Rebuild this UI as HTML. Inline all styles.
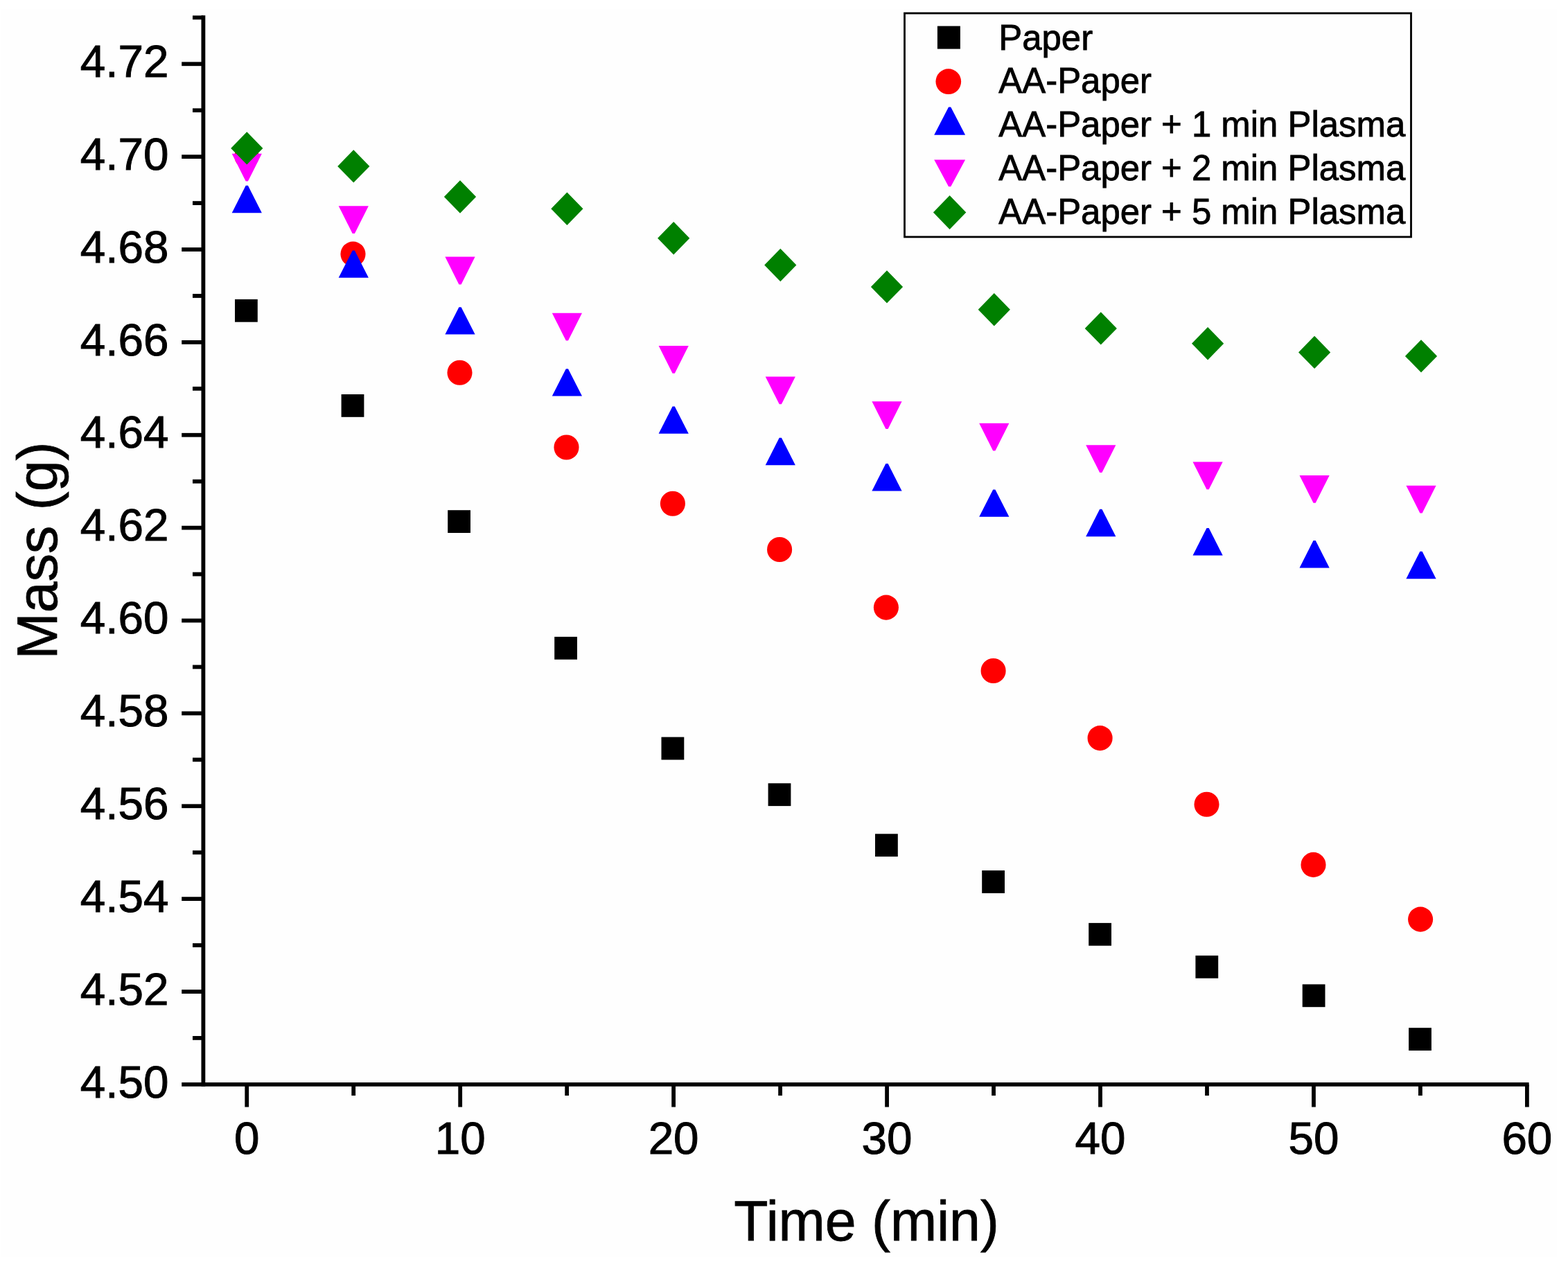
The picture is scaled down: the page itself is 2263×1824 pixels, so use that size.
<!DOCTYPE html>
<html><head><meta charset="utf-8"><title>Mass vs Time</title>
<style>
html,body{margin:0;padding:0;background:#ffffff;overflow:hidden;}
svg{display:block;}
text{font-family:"Liberation Sans",Arial,sans-serif;fill:#000;}
.tl{font-size:65.6px;stroke:#000;stroke-width:1px;}
.at{font-size:80.7px;stroke:#000;stroke-width:0.8px;}
.lg{font-size:50.9px;stroke:#000;stroke-width:0.8px;}
</style></head>
<body>
<svg width="2263" height="1824" viewBox="0 0 2263 1824">
<rect width="2263" height="1824" fill="#ffffff"/>
<rect x="2" y="13" width="2245" height="1801" fill="#fefefe"/>
<line x1="293.4" y1="22.3" x2="293.4" y2="1567.75" stroke="#000" stroke-width="5.8"/>
<line x1="262.2" y1="1564.85" x2="2206.6" y2="1564.85" stroke="#000" stroke-width="5.8"/>
<line x1="278.0" y1="1497.92" x2="293.4" y2="1497.92" stroke="#000" stroke-width="5.8"/>
<line x1="262.2" y1="1430.98" x2="293.4" y2="1430.98" stroke="#000" stroke-width="5.8"/>
<line x1="278.0" y1="1364.04" x2="293.4" y2="1364.04" stroke="#000" stroke-width="5.8"/>
<line x1="262.2" y1="1297.11" x2="293.4" y2="1297.11" stroke="#000" stroke-width="5.8"/>
<line x1="278.0" y1="1230.18" x2="293.4" y2="1230.18" stroke="#000" stroke-width="5.8"/>
<line x1="262.2" y1="1163.24" x2="293.4" y2="1163.24" stroke="#000" stroke-width="5.8"/>
<line x1="278.0" y1="1096.30" x2="293.4" y2="1096.30" stroke="#000" stroke-width="5.8"/>
<line x1="262.2" y1="1029.37" x2="293.4" y2="1029.37" stroke="#000" stroke-width="5.8"/>
<line x1="278.0" y1="962.44" x2="293.4" y2="962.44" stroke="#000" stroke-width="5.8"/>
<line x1="262.2" y1="895.50" x2="293.4" y2="895.50" stroke="#000" stroke-width="5.8"/>
<line x1="278.0" y1="828.56" x2="293.4" y2="828.56" stroke="#000" stroke-width="5.8"/>
<line x1="262.2" y1="761.63" x2="293.4" y2="761.63" stroke="#000" stroke-width="5.8"/>
<line x1="278.0" y1="694.70" x2="293.4" y2="694.70" stroke="#000" stroke-width="5.8"/>
<line x1="262.2" y1="627.76" x2="293.4" y2="627.76" stroke="#000" stroke-width="5.8"/>
<line x1="278.0" y1="560.82" x2="293.4" y2="560.82" stroke="#000" stroke-width="5.8"/>
<line x1="262.2" y1="493.89" x2="293.4" y2="493.89" stroke="#000" stroke-width="5.8"/>
<line x1="278.0" y1="426.96" x2="293.4" y2="426.96" stroke="#000" stroke-width="5.8"/>
<line x1="262.2" y1="360.02" x2="293.4" y2="360.02" stroke="#000" stroke-width="5.8"/>
<line x1="278.0" y1="293.08" x2="293.4" y2="293.08" stroke="#000" stroke-width="5.8"/>
<line x1="262.2" y1="226.15" x2="293.4" y2="226.15" stroke="#000" stroke-width="5.8"/>
<line x1="278.0" y1="159.22" x2="293.4" y2="159.22" stroke="#000" stroke-width="5.8"/>
<line x1="262.2" y1="92.28" x2="293.4" y2="92.28" stroke="#000" stroke-width="5.8"/>
<line x1="278.0" y1="25.34" x2="293.4" y2="25.34" stroke="#000" stroke-width="5.8"/>
<line x1="356.25" y1="1564.85" x2="356.25" y2="1597.5" stroke="#000" stroke-width="5.8"/>
<line x1="510.22" y1="1564.85" x2="510.22" y2="1581.0" stroke="#000" stroke-width="5.8"/>
<line x1="664.19" y1="1564.85" x2="664.19" y2="1597.5" stroke="#000" stroke-width="5.8"/>
<line x1="818.16" y1="1564.85" x2="818.16" y2="1581.0" stroke="#000" stroke-width="5.8"/>
<line x1="972.13" y1="1564.85" x2="972.13" y2="1597.5" stroke="#000" stroke-width="5.8"/>
<line x1="1126.10" y1="1564.85" x2="1126.10" y2="1581.0" stroke="#000" stroke-width="5.8"/>
<line x1="1280.07" y1="1564.85" x2="1280.07" y2="1597.5" stroke="#000" stroke-width="5.8"/>
<line x1="1434.04" y1="1564.85" x2="1434.04" y2="1581.0" stroke="#000" stroke-width="5.8"/>
<line x1="1588.01" y1="1564.85" x2="1588.01" y2="1597.5" stroke="#000" stroke-width="5.8"/>
<line x1="1741.98" y1="1564.85" x2="1741.98" y2="1581.0" stroke="#000" stroke-width="5.8"/>
<line x1="1895.95" y1="1564.85" x2="1895.95" y2="1597.5" stroke="#000" stroke-width="5.8"/>
<line x1="2049.92" y1="1564.85" x2="2049.92" y2="1581.0" stroke="#000" stroke-width="5.8"/>
<line x1="2203.89" y1="1564.85" x2="2203.89" y2="1597.5" stroke="#000" stroke-width="5.8"/>
<text x="243.4" y="1583.55" text-anchor="end" class="tl">4.50</text>
<text x="243.4" y="1449.68" text-anchor="end" class="tl">4.52</text>
<text x="243.4" y="1315.81" text-anchor="end" class="tl">4.54</text>
<text x="243.4" y="1181.94" text-anchor="end" class="tl">4.56</text>
<text x="243.4" y="1048.07" text-anchor="end" class="tl">4.58</text>
<text x="243.4" y="914.20" text-anchor="end" class="tl">4.60</text>
<text x="243.4" y="780.33" text-anchor="end" class="tl">4.62</text>
<text x="243.4" y="646.46" text-anchor="end" class="tl">4.64</text>
<text x="243.4" y="512.59" text-anchor="end" class="tl">4.66</text>
<text x="243.4" y="378.72" text-anchor="end" class="tl">4.68</text>
<text x="243.4" y="244.85" text-anchor="end" class="tl">4.70</text>
<text x="243.4" y="110.98" text-anchor="end" class="tl">4.72</text>
<text x="356.25" y="1665" text-anchor="middle" class="tl">0</text>
<text x="664.19" y="1665" text-anchor="middle" class="tl">10</text>
<text x="972.13" y="1665" text-anchor="middle" class="tl">20</text>
<text x="1280.07" y="1665" text-anchor="middle" class="tl">30</text>
<text x="1588.01" y="1665" text-anchor="middle" class="tl">40</text>
<text x="1895.95" y="1665" text-anchor="middle" class="tl">50</text>
<text x="2203.89" y="1665" text-anchor="middle" class="tl">60</text>
<text transform="translate(1250.6,1790.4) scale(1,1.014)" text-anchor="middle" class="at">Time (min)</text>
<text transform="translate(82.3,794.5) rotate(-90) scale(1,1.014)" text-anchor="middle" class="at">Mass (g)</text>
<rect x="339.00" y="431.90" width="32.8" height="32.8" fill="#000"/>
<rect x="492.60" y="569.00" width="32.8" height="32.8" fill="#000"/>
<rect x="646.20" y="736.20" width="32.8" height="32.8" fill="#000"/>
<rect x="800.20" y="918.90" width="32.8" height="32.8" fill="#000"/>
<rect x="954.50" y="1063.60" width="32.8" height="32.8" fill="#000"/>
<rect x="1108.60" y="1130.30" width="32.8" height="32.8" fill="#000"/>
<rect x="1263.00" y="1203.30" width="32.8" height="32.8" fill="#000"/>
<rect x="1417.20" y="1256.10" width="32.8" height="32.8" fill="#000"/>
<rect x="1571.20" y="1331.90" width="32.8" height="32.8" fill="#000"/>
<rect x="1725.40" y="1378.90" width="32.8" height="32.8" fill="#000"/>
<rect x="1879.70" y="1420.40" width="32.8" height="32.8" fill="#000"/>
<rect x="2033.10" y="1483.20" width="32.8" height="32.8" fill="#000"/>
<circle cx="356.00" cy="225.60" r="17.6" fill="#f00"/>
<circle cx="509.50" cy="366.60" r="18.05" fill="#f00"/>
<circle cx="663.50" cy="537.80" r="18.05" fill="#f00"/>
<circle cx="817.50" cy="645.50" r="18.05" fill="#f00"/>
<circle cx="970.90" cy="726.70" r="18.05" fill="#f00"/>
<circle cx="1125.10" cy="793.00" r="18.05" fill="#f00"/>
<circle cx="1278.90" cy="876.60" r="18.05" fill="#f00"/>
<circle cx="1433.60" cy="968.00" r="18.05" fill="#f00"/>
<circle cx="1587.60" cy="1065.10" r="18.05" fill="#f00"/>
<circle cx="1741.50" cy="1160.80" r="18.05" fill="#f00"/>
<circle cx="1895.50" cy="1247.90" r="18.05" fill="#f00"/>
<circle cx="2050.10" cy="1326.60" r="18.05" fill="#f00"/>
<polygon points="354.70,267.80 357.90,267.80 377.90,307.20 334.70,307.20" fill="#00f"/>
<polygon points="508.70,361.40 511.90,361.40 531.90,400.80 488.70,400.80" fill="#00f"/>
<polygon points="662.40,443.20 665.60,443.20 685.60,482.60 642.40,482.60" fill="#00f"/>
<polygon points="816.80,532.20 820.00,532.20 840.00,571.60 796.80,571.60" fill="#00f"/>
<polygon points="970.60,586.40 973.80,586.40 993.80,625.80 950.60,625.80" fill="#00f"/>
<polygon points="1124.70,631.80 1127.90,631.80 1147.90,671.20 1104.70,671.20" fill="#00f"/>
<polygon points="1278.40,669.00 1281.60,669.00 1301.60,708.40 1258.40,708.40" fill="#00f"/>
<polygon points="1433.20,706.40 1436.40,706.40 1456.40,745.80 1413.20,745.80" fill="#00f"/>
<polygon points="1587.20,734.80 1590.40,734.80 1610.40,774.20 1567.20,774.20" fill="#00f"/>
<polygon points="1741.50,762.00 1744.70,762.00 1764.70,801.40 1721.50,801.40" fill="#00f"/>
<polygon points="1895.50,780.10 1898.70,780.10 1918.70,819.50 1875.50,819.50" fill="#00f"/>
<polygon points="2049.40,795.80 2052.60,795.80 2072.60,835.20 2029.40,835.20" fill="#00f"/>
<polygon points="334.70,221.80 377.90,221.80 357.90,261.60 354.70,261.60" fill="#f0f"/>
<polygon points="488.70,297.30 531.90,297.30 511.90,337.10 508.70,337.10" fill="#f0f"/>
<polygon points="642.40,370.60 685.60,370.60 665.60,410.40 662.40,410.40" fill="#f0f"/>
<polygon points="796.80,451.80 840.00,451.80 820.00,491.60 816.80,491.60" fill="#f0f"/>
<polygon points="950.60,499.00 993.80,499.00 973.80,538.80 970.60,538.80" fill="#f0f"/>
<polygon points="1104.70,543.40 1147.90,543.40 1127.90,583.20 1124.70,583.20" fill="#f0f"/>
<polygon points="1258.40,579.20 1301.60,579.20 1281.60,619.00 1278.40,619.00" fill="#f0f"/>
<polygon points="1413.20,610.80 1456.40,610.80 1436.40,650.60 1433.20,650.60" fill="#f0f"/>
<polygon points="1567.20,642.20 1610.40,642.20 1590.40,682.00 1587.20,682.00" fill="#f0f"/>
<polygon points="1721.50,666.40 1764.70,666.40 1744.70,706.20 1741.50,706.20" fill="#f0f"/>
<polygon points="1875.50,685.90 1918.70,685.90 1898.70,725.70 1895.50,725.70" fill="#f0f"/>
<polygon points="2029.40,700.70 2072.60,700.70 2052.60,740.50 2049.40,740.50" fill="#f0f"/>
<polygon points="356.30,190.20 379.40,213.90 356.30,237.60 333.20,213.90" fill="#008000"/>
<polygon points="510.30,216.20 533.40,239.90 510.30,263.60 487.20,239.90" fill="#008000"/>
<polygon points="664.00,260.30 687.10,284.00 664.00,307.70 640.90,284.00" fill="#008000"/>
<polygon points="818.40,277.60 841.50,301.30 818.40,325.00 795.30,301.30" fill="#008000"/>
<polygon points="972.20,320.00 995.30,343.70 972.20,367.40 949.10,343.70" fill="#008000"/>
<polygon points="1126.30,358.80 1149.40,382.50 1126.30,406.20 1103.20,382.50" fill="#008000"/>
<polygon points="1280.00,390.20 1303.10,413.90 1280.00,437.60 1256.90,413.90" fill="#008000"/>
<polygon points="1434.80,423.10 1457.90,446.80 1434.80,470.50 1411.70,446.80" fill="#008000"/>
<polygon points="1588.80,450.20 1611.90,473.90 1588.80,497.60 1565.70,473.90" fill="#008000"/>
<polygon points="1743.10,472.00 1766.20,495.70 1743.10,519.40 1720.00,495.70" fill="#008000"/>
<polygon points="1897.10,484.70 1920.20,508.40 1897.10,532.10 1874.00,508.40" fill="#008000"/>
<polygon points="2051.00,490.20 2074.10,513.90 2051.00,537.60 2027.90,513.90" fill="#008000"/>
<rect x="1305.5" y="19.1" width="731.0" height="322.8" fill="none" stroke="#000" stroke-width="2.8"/>
<rect x="1352.90" y="37.60" width="33" height="33" fill="#000"/>
<circle cx="1368.80" cy="117.70" r="18.35" fill="#f00"/>
<polygon points="1369.05,154.55 1372.25,154.55 1393.10,194.65 1348.20,194.65" fill="#00f"/>
<polygon points="1348.20,230.60 1393.10,230.60 1372.25,269.20 1369.05,269.20" fill="#f0f"/>
<polygon points="1370.60,281.90 1394.30,306.45 1370.60,331.00 1346.90,306.45" fill="#008000"/>
<text x="1441.3" y="71.6" class="lg">Paper</text>
<text x="1441.3" y="134.3" class="lg">AA-Paper</text>
<text x="1441.3" y="197.2" class="lg">AA-Paper + 1 min Plasma</text>
<text x="1441.3" y="259.8" class="lg">AA-Paper + 2 min Plasma</text>
<text x="1441.3" y="322.7" class="lg">AA-Paper + 5 min Plasma</text>
</svg>
</body></html>
